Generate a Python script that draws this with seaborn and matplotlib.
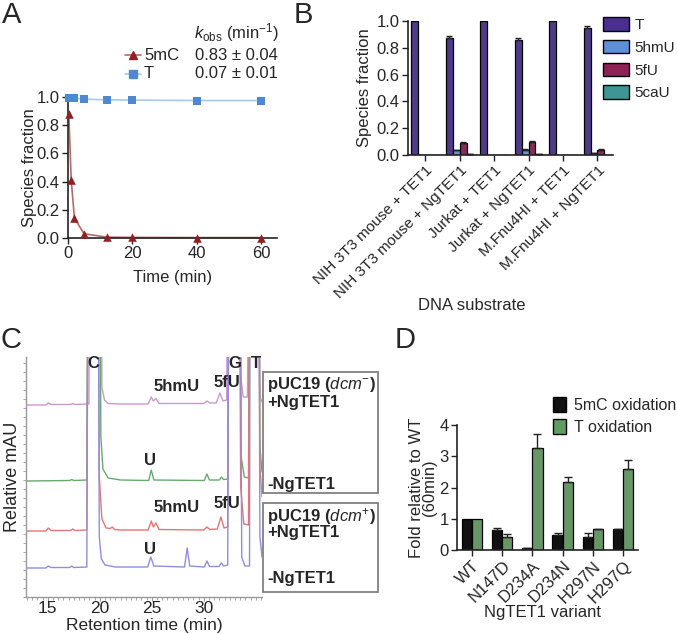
import numpy as np
import pandas as pd
import matplotlib
matplotlib.use("Agg")
import matplotlib.pyplot as plt
import seaborn as sns
from matplotlib.lines import Line2D
from matplotlib.patches import Patch, Rectangle

sns.set_style("ticks")
plt.rcParams["font.family"] = ["Liberation Sans", "DejaVu Sans"]
plt.rcParams["mathtext.fontset"] = "custom"
plt.rcParams["mathtext.rm"] = "Liberation Sans"
plt.rcParams["mathtext.it"] = "Liberation Sans:italic"
plt.rcParams["mathtext.bf"] = "Liberation Sans:bold"

# ---------------- data ----------------
# Panel A
time_5mC = [0.25, 1, 2, 5, 12, 20, 40, 60]
frac_5mC = [0.88, 0.41, 0.14, 0.03, 0.006, 0.004, 0.003, 0.003]
time_T = [0.25, 1, 2, 5, 12, 20, 40, 60]
frac_T = [0.99, 0.99, 0.99, 0.985, 0.98, 0.978, 0.975, 0.975]
kobs_labels = ["0.83 \u00b1 0.04", "0.07 \u00b1 0.01"]

# Panel B
substrates = ["NIH 3T3 mouse + TET1", "NIH 3T3 mouse + NgTET1", "Jurkat + TET1",
              "Jurkat + NgTET1", "M.Fnu4HI + TET1", "M.Fnu4HI + NgTET1"]
speciesB = ["T", "5hmU", "5fU", "5caU"]
B_T = [1.0, 0.87, 1.0, 0.855, 1.0, 0.95]
B_5hmU = [0.0, 0.035, 0.0, 0.04, 0.0, 0.012]
B_5fU = [0.0, 0.09, 0.0, 0.095, 0.0, 0.04]
B_5caU = [0.0, 0.005, 0.0, 0.006, 0.0, 0.0]
B_T_err = [0.0, 0.018, 0.0, 0.02, 0.0, 0.01]
B_5hmU_err = [0.0, 0.005, 0.0, 0.005, 0.0, 0.003]
B_5fU_err = [0.0, 0.01, 0.0, 0.01, 0.0, 0.006]
B_5caU_err = [0.0, 0.002, 0.0, 0.002, 0.0, 0.0]

# Panel C (retention time, relative mAU)
C_pink_t = [12.9, 14.8, 15.05, 15.3, 17.2, 17.4, 17.6, 18.95, 19.1, 20.0, 20.2, 20.45, 20.8, 22.0,
            24.65, 24.95, 25.15, 25.4, 25.7, 30.0, 30.3, 30.6, 31.2, 31.55, 31.85, 32.2, 32.45,
            33.3, 33.55, 33.8, 34.2, 34.5, 35.2, 35.4, 35.6]
C_pink_y = [192, 192, 194, 192.5, 192.5, 193.5, 192.5, 193, 600, 600, 210, 197, 193.5, 193,
            193, 200, 196, 198.5, 193.5, 193.5, 196, 194, 194, 204, 196, 197, 600,
            600, 220, 200, 200, 600, 600, 200, 195]
C_green_t = [12.9, 17.1, 17.3, 17.5, 18.75, 18.95, 19.9, 20.1, 20.3, 20.8, 22.0,
             24.7, 24.95, 25.2, 30.05, 30.3, 30.55, 31.5, 31.7, 31.9, 32.3, 32.55,
             33.3, 33.6, 33.9, 34.3, 34.5, 35.2, 35.4, 35.6]
C_green_y = [116, 116.5, 117.5, 116.5, 117, 600, 600, 160, 128, 119, 117,
             116.5, 127, 117, 116.5, 123, 117, 117, 120, 117.5, 118, 600,
             600, 140, 120, 119, 600, 600, 150, 125]
C_red_t = [12.9, 14.8, 15.05, 15.3, 17.2, 17.4, 17.6, 18.75, 18.95, 19.75, 19.95, 20.2, 20.6,
           21.0, 21.2, 21.4, 22.0, 24.65, 24.95, 25.15, 25.4, 25.7, 30.0, 30.3, 30.6,
           31.3, 31.65, 31.95, 32.3, 32.5, 33.3, 33.55, 33.85, 34.3, 34.5, 35.2, 35.4, 35.6]
C_red_y = [66, 66, 69, 66.5, 66.5, 68, 66.5, 67, 600, 600, 120, 78, 69,
           68.5, 70, 67.5, 67, 67, 76, 70, 74, 67.5, 67, 70, 67.5,
           68, 80, 69, 70, 600, 600, 110, 73, 72, 600, 600, 130, 100]
C_blue_t = [12.9, 14.8, 15.05, 15.3, 17.1, 17.3, 17.5, 18.75, 18.95, 19.75, 19.95, 20.15, 20.5,
            21.5, 24.6, 24.9, 25.2, 28.15, 28.4, 28.65, 30.05, 30.3, 30.55, 31.45, 31.7, 31.9,
            32.3, 32.5, 33.4, 33.65, 33.95, 34.4, 34.5, 35.2, 35.4, 35.6]
C_blue_y = [29, 29, 31, 29.5, 29.5, 31, 29.5, 30, 600, 600, 60, 38, 32,
            30, 30, 40, 31, 30, 49, 31, 30, 36, 30.5, 30.5, 34, 31,
            32, 600, 600, 40, 31, 31, 600, 600, 60, 40]

# Panel D
variants = ["WT", "N147D", "D234A", "D234N", "H297N", "H297Q"]
D_5mC = [1.0, 0.65, 0.06, 0.48, 0.43, 0.66]
D_5mC_err = [0.0, 0.04, 0.02, 0.08, 0.11, 0.02]
D_T = [1.0, 0.42, 3.25, 2.18, 0.66, 2.6]
D_T_err = [0.0, 0.09, 0.45, 0.15, 0.02, 0.27]
seriesD = ["5mC oxidation", "T oxidation"]

# ---------------- figure ----------------
W, H = 677, 634
fig = plt.figure(figsize=(W / 100, H / 100), dpi=100)


def add_ax(l, t, r, b):
    return fig.add_axes([l / W, 1 - b / H, (r - l) / W, (b - t) / H])


def fx(x):
    return x / W


def fy(y):
    return 1 - y / H


FS = 12
spine_c = "#222222"


def style_ax(ax):
    for s in ["top", "right"]:
        ax.spines[s].set_visible(False)
    for s in ["left", "bottom"]:
        ax.spines[s].set_color(spine_c)
        ax.spines[s].set_linewidth(1.2)
    ax.tick_params(labelsize=FS, length=4, width=1.0, color=spine_c, pad=2)


# ---- Panel A ----
c5mC, c5mC_line = "#8e2222", "#b86a66"
cT, cT_line = "#4f88d2", "#a8c8ec"
axA = add_ax(68, 97, 277, 238)
sns.lineplot(x=time_T, y=frac_T, ax=axA, color=cT_line, lw=1.2, clip_on=False)
sns.lineplot(x=time_5mC, y=frac_5mC, ax=axA, color=c5mC_line, lw=1.2, clip_on=False)
sns.scatterplot(x=time_T, y=frac_T, ax=axA, color=cT, marker="s", s=38, edgecolor=cT,
                linewidth=0, clip_on=False, zorder=5)
sns.scatterplot(x=time_5mC, y=frac_5mC, ax=axA, color=c5mC, marker="^", s=38, edgecolor=c5mC,
                linewidth=0, clip_on=False, zorder=5)
axA.set_xlim(0, 65)
axA.set_ylim(0, 1.0)
axA.set_xticks([0, 20, 40, 60])
axA.set_yticks(np.arange(0, 1.01, 0.2))
axA.set_yticklabels([f"{v:.1f}" for v in np.arange(0, 1.01, 0.2)])
style_ax(axA)
axA.set_xlabel("Time (min)", fontsize=FS, labelpad=6)
axA.set_ylabel("Species fraction", fontsize=FS, labelpad=0)

# legend A
fig.text(fx(236), fy(33), r"$k_{\rm obs}$ (min$^{-1}$)", fontsize=FS, ha="center", va="center")
for yy, col, lc, mk, name, val in [(55, c5mC, c5mC_line, "^", "5mC", kobs_labels[0]),
                                    (74, cT, cT_line, "s", "T", kobs_labels[1])]:
    fig.add_artist(Line2D([fx(125), fx(141)], [fy(yy), fy(yy)], transform=fig.transFigure,
                          color=lc, lw=1.2))
    fig.add_artist(Line2D([fx(133)], [fy(yy)], transform=fig.transFigure, marker=mk,
                          color=col, markersize=6, lw=0))
    fig.text(fx(144), fy(yy), name, fontsize=FS, ha="left", va="center")
    fig.text(fx(195), fy(yy), val, fontsize=FS, ha="left", va="center")

# ---- Panel B ----
colorsB = ["#4a2f92", "#5e90d8", "#8e2155", "#3f9494"]
dfB = pd.DataFrame({
    "substrate": substrates * 4,
    "species": np.repeat(speciesB, len(substrates)),
    "value": B_T + B_5hmU + B_5fU + B_5caU,
})
axB = add_ax(408, 21, 613, 155)
sns.barplot(data=dfB, x="substrate", y="value", hue="species", hue_order=speciesB,
            order=substrates, palette=colorsB, width=0.8, edgecolor="black", linewidth=0.9,
            errorbar=None, legend=False, ax=axB)
for cont, errs in zip(axB.containers, [B_T_err, B_5hmU_err, B_5fU_err, B_5caU_err]):
    for bar, e in zip(cont, errs):
        if e > 0:
            axB.errorbar(bar.get_x() + bar.get_width() / 2, bar.get_height(), yerr=[[0], [e]],
                         color="#222222", capsize=2.5, lw=1.0, capthick=1.0)
axB.set_ylim(0, 1.0)
axB.set_xlim(-0.5, 5.45)
axB.set_yticks(np.arange(0, 1.01, 0.2))
axB.set_yticklabels([f"{v:.1f}" for v in np.arange(0, 1.01, 0.2)])
style_ax(axB)
axB.set_xticks(range(len(substrates)))
axB.set_xticklabels(substrates, rotation=45, ha="right", rotation_mode="anchor", fontsize=11)
axB.set_xlabel("")
axB.set_ylabel("Species fraction", fontsize=FS, labelpad=3)
fig.text(fx(472), fy(305), "DNA substrate", fontsize=FS, ha="center", va="center")
handlesB = [Patch(facecolor=c, edgecolor="black", linewidth=1.0) for c in colorsB]
fig.legend(handles=handlesB, labels=speciesB, loc="upper left", bbox_to_anchor=(fx(597), fy(11)),
           frameon=False, fontsize=11, handlelength=1.7, handleheight=1.0, labelspacing=0.5,
           handletextpad=0.35, borderaxespad=0)

# ---- Panel C ----
axC = add_ax(26, 357, 262, 597)
traces = [(C_pink_t, C_pink_y, "#cc98cc"), (C_green_t, C_green_y, "#6aa86e"),
          (C_red_t, C_red_y, "#e27676"), (C_blue_t, C_blue_y, "#8e8edc")]
for tt, yy, col in traces:
    sns.lineplot(x=tt, y=yy, ax=axC, color=col, lw=1.0, sort=False, estimator=None)
axC.set_xlim(12.9, 35.6)
axC.set_ylim(0, 240)
for s in ["top", "right"]:
    axC.spines[s].set_visible(False)
for s in ["left", "bottom"]:
    axC.spines[s].set_color("#999999")
    axC.spines[s].set_linewidth(1.0)
axC.set_xticks([15, 20, 25, 30])
axC.set_xticks(np.arange(13, 35.6, 0.5), minor=True)
axC.set_yticks([])
axC.set_yticks(np.arange(0, 240, 9), minor=True)
axC.tick_params(axis="x", which="major", labelsize=12.5, length=3, color="#999999", pad=0)
axC.tick_params(axis="both", which="minor", length=2, color="#999999")
axC.set_xlabel("Retention time (min)", fontsize=12.5)
axC.xaxis.set_label_coords(0.5, -(618 - 597) / 240)
axC.set_ylabel("Relative mAU", fontsize=13)
axC.yaxis.set_label_coords(-(26 - 21) / 236, 0.5)
peak_labels = [("C", 19.4, 234), ("G", 33.0, 234), ("T", 35.0, 234),
               ("5hmU", 27.4, 211), ("5fU", 32.2, 215), ("U", 24.8, 137),
               ("5hmU", 27.4, 89), ("5fU", 32.2, 94), ("U", 24.8, 48)]
for txt, tx, ty in peak_labels:
    axC.text(tx, ty, txt, fontsize=12, fontweight="bold", ha="center", va="center", clip_on=False)

# legend boxes for C
for (t, b) in [(372, 493), (503, 592)]:
    fig.add_artist(Rectangle((fx(263), fy(b)), fx(378) - fx(263), fy(t) - fy(b),
                             transform=fig.transFigure, fill=False, edgecolor="#808080", lw=1.3))
box_texts = [(385, r"pUC19 ($\it{dcm}^{-}$)"), (403, "+NgTET1"), (484, "-NgTET1"),
             (516, r"pUC19 ($\it{dcm}^{+}$)"), (533, "+NgTET1"), (578, "-NgTET1")]
for yy, txt in box_texts:
    fig.text(fx(267), fy(yy), txt, fontsize=12, fontweight="bold", ha="left", va="center")

# ---- Panel D ----
colorsD = ["#111111", "#5f9e5f"]
dfD = pd.DataFrame({
    "variant": variants * 2,
    "series": np.repeat(seriesD, len(variants)),
    "value": D_5mC + D_T,
})
axD = add_ax(457, 425, 638, 550)
sns.barplot(data=dfD, x="variant", y="value", hue="series", hue_order=seriesD, order=variants,
            palette=colorsD, width=0.67, edgecolor="black", linewidth=0.9, errorbar=None,
            legend=False, ax=axD)
for cont, errs in zip(axD.containers, [D_5mC_err, D_T_err]):
    for bar, e in zip(cont, errs):
        if e > 0:
            axD.errorbar(bar.get_x() + bar.get_width() / 2, bar.get_height(), yerr=[[0], [e]],
                         color="#222222", capsize=3, lw=1.0, capthick=1.0)
axD.set_ylim(0, 4)
axD.set_xlim(-0.5, 5.5)
axD.set_yticks([0, 1, 2, 3, 4])
style_ax(axD)
axD.set_xticks(range(len(variants)))
axD.set_xticklabels(variants, rotation=45, ha="right", rotation_mode="anchor", fontsize=FS)
axD.set_xlabel("")
axD.set_ylabel("Fold relative to WT\n(60min)", fontsize=FS, labelpad=2, linespacing=0.8)
fig.text(fx(543), fy(613), "NgTET1 variant", fontsize=FS, ha="center", va="center")
handlesD = [Patch(facecolor=c, edgecolor="black", linewidth=1.0) for c in colorsD]
fig.legend(handles=handlesD, labels=seriesD, loc="upper left", bbox_to_anchor=(fx(547), fy(391)),
           frameon=False, fontsize=11.5, handlelength=0.8, handleheight=1.0, labelspacing=0.4,
           handletextpad=0.5, borderaxespad=0)

# panel letters
for L, x, y in [("A", 12, 15), ("B", 303, 15), ("C", 11, 340), ("D", 405, 340)]:
    fig.text(fx(x), fy(y), L, fontsize=21, ha="center", va="center")

fig.savefig("out.png", dpi=100)
